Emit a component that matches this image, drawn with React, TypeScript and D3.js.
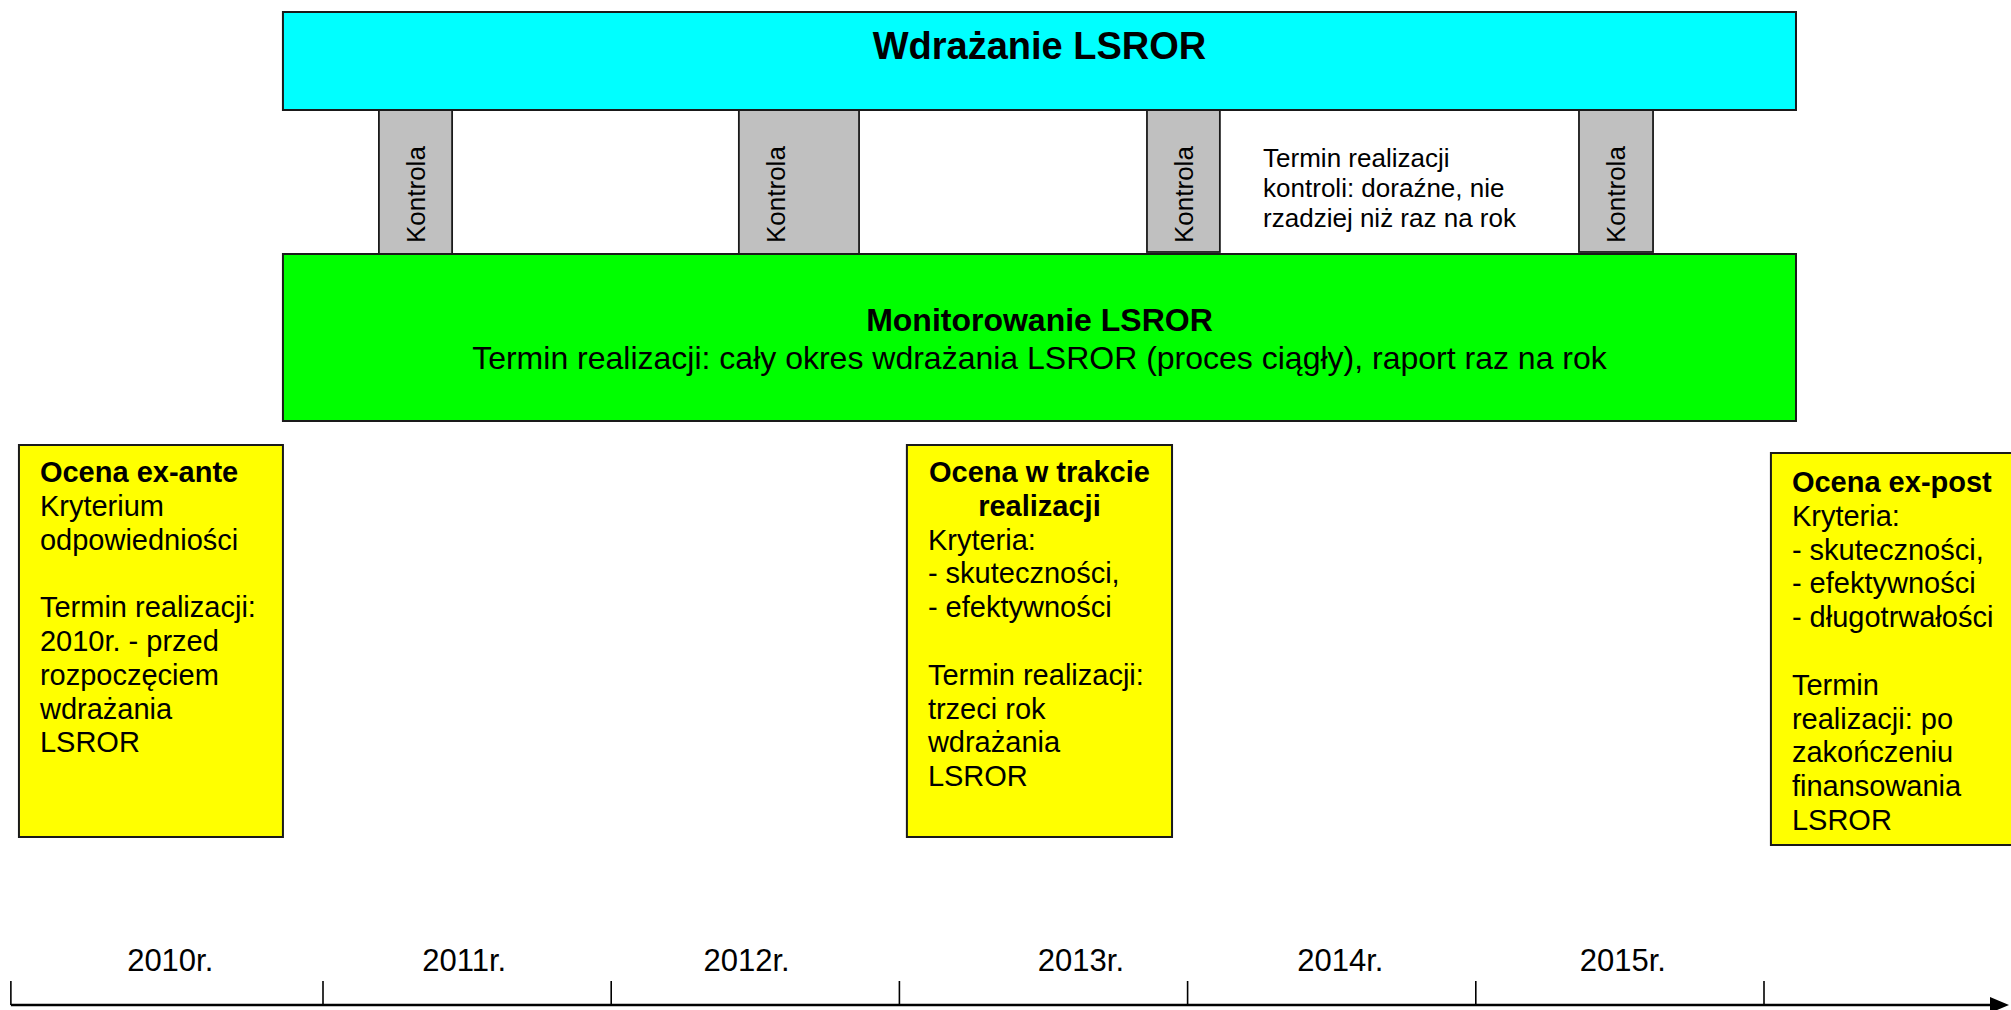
import React from 'react';
import * as d3 from 'd3';

// timeline
const years = [2010, 2011, 2012, 2013, 2014, 2015];
const yearLabels = ['2010r.', '2011r.', '2012r.', '2013r.', '2014r.', '2015r.'];
const yearLabelAt = [2010.47, 2011.49, 2012.47, 2013.63, 2014.53, 2015.51];

// implementation / monitoring bands (in years)
const bandSpan = [2010.861, 2016.111];
const implTitle = 'Wdrażanie LSROR';
const monitorTitle = 'Monitorowanie LSROR';
const monitorNote = 'Termin realizacji: cały okres wdrażania LSROR (proces ciągły), raport raz na rok';

// controls
const kontrolaStart = [2011.194, 2012.443, 2013.859, 2015.358];
const kontrolaEnd = [2011.448, 2012.86, 2014.112, 2015.615];
const kontrolaLabel = 'Kontrola';
const kontrolaNoteAt = 2014.262;
const kontrolaNote = ['Termin realizacji', 'kontroli: doraźne, nie', 'rzadziej niż raz na rok'];

// evaluations
const evalStart = [2009.945, 2013.026, 2016.024];
const evalEnd = [2010.861, 2013.946, 2017.2];
const evalTitles = [['Ocena ex-ante'], ['Ocena w trakcie', 'realizacji'], ['Ocena ex-post']];
const evalLines = [
  ['Kryterium', 'odpowiedniości', '', 'Termin realizacji:', '2010r. - przed', 'rozpoczęciem', 'wdrażania', 'LSROR'],
  ['Kryteria:', '- skuteczności,', '- efektywności', '', 'Termin realizacji:', 'trzeci rok', 'wdrażania', 'LSROR'],
  ['Kryteria:', '- skuteczności,', '- efektywności', '- długotrwałości', '', 'Termin', 'realizacji: po', 'zakończeniu', 'finansowania', 'LSROR'],
];

const W = 2011;
const H = 1010;
const FONT = '"Liberation Sans", Arial, sans-serif';
const STROKE = '#1a1a1a';

const App = () => {
  const x = d3.scaleLinear().domain([2011, 2016]).range([323, 1764]);
  const axisStart = x(2009.917);
  const axisEnd = 2009;
  const axisY = 1005;

  const implTop = 12, implBottom = 110;
  const monTop = 254, monBottom = 421;
  const evalTop = [445, 445, 453];
  const evalBottom = [837, 837, 845];
  const lineH = 33.8;

  return (
    <svg width={W} height={H} style={{ position: 'absolute', left: 0, top: 0, display: 'block' }}
      fontFamily={FONT}>
      <rect x={0} y={0} width={W} height={H} fill="#fff" />

      {/* kontrola pillars */}
      {kontrolaStart.map((s, i) => {
        const x0 = x(s), x1 = x(kontrolaEnd[i]);
        const bottom = i >= 2 ? monTop - 2 : monTop;
        return (
          <g key={'k' + i}>
            <rect x={x0} y={implBottom} width={x1 - x0} height={bottom - implBottom}
              fill="#c0c0c0" stroke={STROKE} strokeWidth={1.8} />
            <text transform={`translate(${x0 + 46},243) rotate(-90)`} fontSize={26} fill="#000">
              {kontrolaLabel}
            </text>
          </g>
        );
      })}
      {kontrolaNote.map((t, i) => (
        <text key={'kn' + i} x={x(kontrolaNoteAt)} y={167 + i * 30} fontSize={26} fill="#000">{t}</text>
      ))}

      {/* implementation band */}
      <rect x={x(bandSpan[0])} y={implTop} width={x(bandSpan[1]) - x(bandSpan[0])} height={implBottom - implTop}
        fill="#00ffff" stroke={STROKE} strokeWidth={2} />
      <text x={(x(bandSpan[0]) + x(bandSpan[1])) / 2} y={59} textAnchor="middle" fontSize={38} fontWeight="bold">
        {implTitle}
      </text>

      {/* monitoring band */}
      <rect x={x(bandSpan[0])} y={monTop} width={x(bandSpan[1]) - x(bandSpan[0])} height={monBottom - monTop}
        fill="#00ff00" stroke={STROKE} strokeWidth={2} />
      <text x={(x(bandSpan[0]) + x(bandSpan[1])) / 2} y={331} textAnchor="middle" fontSize={32} fontWeight="bold">
        {monitorTitle}
      </text>
      <text x={(x(bandSpan[0]) + x(bandSpan[1])) / 2} y={369} textAnchor="middle" fontSize={32}>
        {monitorNote}
      </text>

      {/* evaluation boxes */}
      {evalStart.map((s, i) => {
        const x0 = x(s), x1 = x(evalEnd[i]);
        const tx = x0 + 21;
        const firstBase = evalTop[i] + (i === 2 ? 39 : 37);
        const titles = evalTitles[i];
        const centered = titles.length > 1;
        return (
          <g key={'e' + i}>
            <rect x={x0} y={evalTop[i]} width={x1 - x0} height={evalBottom[i] - evalTop[i]}
              fill="#ffff00" stroke={STROKE} strokeWidth={2} />
            {titles.map((t, j) => (
              <text key={'t' + j} x={centered ? (x0 + x1) / 2 : tx} y={firstBase + j * lineH}
                textAnchor={centered ? 'middle' : 'start'} fontSize={29} fontWeight="bold">{t}</text>
            ))}
            {evalLines[i].map((t, j) => (
              <text key={'l' + j} x={tx} y={firstBase + (titles.length + j) * lineH} fontSize={29}>{t}</text>
            ))}
          </g>
        );
      })}

      {/* timeline */}
      <line x1={axisStart} x2={axisEnd - 12} y1={axisY} y2={axisY} stroke="#000" strokeWidth={2.6} />
      <path d={`M${axisEnd},${axisY} L${axisEnd - 19},${axisY - 8} L${axisEnd - 19},${axisY + 8} Z`} fill="#000" />
      <line x1={axisStart} x2={axisStart} y1={981} y2={axisY} stroke="#000" strokeWidth={1.6} />
      {years.map((y) => (
        <line key={'tk' + y} x1={x(y + 1)} x2={x(y + 1)} y1={981} y2={axisY} stroke="#000" strokeWidth={1.6} />
      ))}
      {yearLabels.map((t, i) => (
        <text key={'yl' + i} x={x(yearLabelAt[i])} y={971} textAnchor="middle" fontSize={31}>{t}</text>
      ))}
    </svg>
  );
};

export default App;
